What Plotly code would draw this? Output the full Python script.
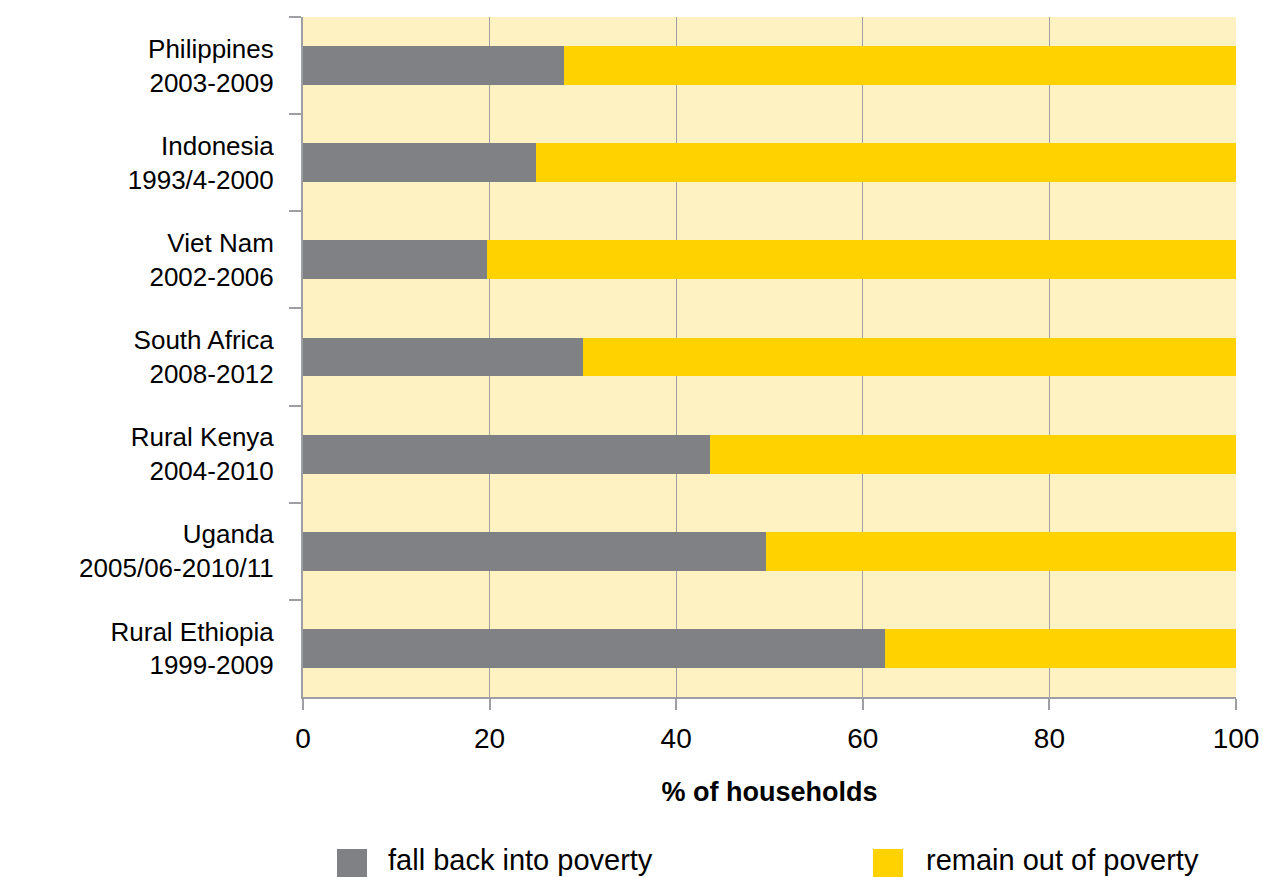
import plotly.graph_objects as go

countries = ["Philippines", "Indonesia", "Viet Nam", "South Africa",
             "Rural Kenya", "Uganda", "Rural Ethiopia"]
periods = ["2003-2009", "1993/4-2000", "2002-2006", "2008-2012",
           "2004-2010", "2005/06-2010/11", "1999-2009"]
fall_back = [28.0, 25.0, 19.7, 30.0, 43.6, 49.6, 62.4]
remain_out = [72.0, 75.0, 80.3, 70.0, 56.4, 50.4, 37.6]
series_names = ["fall back into poverty", "remain out of poverty"]
x_ticks = [0, 20, 40, 60, 80, 100]

GREY = "#808184"
YELLOW = "#FFD200"
BG = "#FFF2C2"
AXIS = "#9D9FA2"
FONT = "Liberation Sans, Arial, sans-serif"

labels = [f"{c}<br>{p}" for c, p in zip(countries, periods)]

fig = go.Figure()
fig.add_trace(go.Bar(y=labels, x=fall_back, orientation="h", name=series_names[0],
                     marker=dict(color=GREY, line=dict(width=0)), showlegend=False))
fig.add_trace(go.Bar(y=labels, x=remain_out, orientation="h", name=series_names[1],
                     marker=dict(color=YELLOW, line=dict(width=0)), showlegend=False))

W, H = 1263, 877
L, R, T, B = 303, 27, 17, 180
pw, ph = W - L - R, H - T - B

def px_x(p):
    return (p - L) / pw

def px_y(p):
    return (H - B - p) / ph

fig.update_layout(
    barmode="stack",
    bargap=0.6,
    width=W, height=H,
    margin=dict(l=L, r=R, t=T, b=B, pad=0),
    paper_bgcolor="white",
    plot_bgcolor=BG,
    font=dict(family=FONT, color="black"),
    xaxis=dict(
        range=[0, 100], tickvals=x_ticks, ticktext=[str(v) for v in x_ticks],
        showgrid=True, gridcolor=AXIS, gridwidth=1,
        showline=True, linecolor=AXIS, linewidth=2,
        ticks="outside", ticklen=11, tickcolor=AXIS, tickwidth=2,
        tickfont=dict(size=28, family=FONT),
        ticklabelstandoff=4,
        zeroline=False, automargin=False,
        title=dict(text="<b>% of households</b>", font=dict(size=27, family=FONT), standoff=30),
    ),
    yaxis=dict(
        categoryorder="array", categoryarray=labels, autorange="reversed",
        showgrid=False, showline=True, linecolor=AXIS, linewidth=2,
        ticks="outside", ticklen=12, tickcolor=AXIS, tickwidth=2,
        tickson="boundaries", automargin=False,
        tickfont=dict(size=26, family=FONT),
        ticklabelstandoff=22,
    ),
)

# Legend drawn manually with large square keys
keys = [(337, 367, GREY, 386, series_names[0]), (873, 903, YELLOW, 924, series_names[1])]
for x0, x1, col, tx, txt in keys:
    fig.add_shape(type="rect", xref="paper", yref="paper",
                  x0=px_x(x0), x1=px_x(x1), y0=px_y(877), y1=px_y(849),
                  fillcolor=col, line=dict(width=0), layer="above")
    fig.add_annotation(xref="paper", yref="paper", x=px_x(tx), y=px_y(860),
                       xanchor="left", yanchor="middle", text=txt, showarrow=False,
                       font=dict(size=29, family=FONT, color="black"))

fig.write_html("out.html", config={"displayModeBar": False},
               post_script="document.body.style.margin='0';")
